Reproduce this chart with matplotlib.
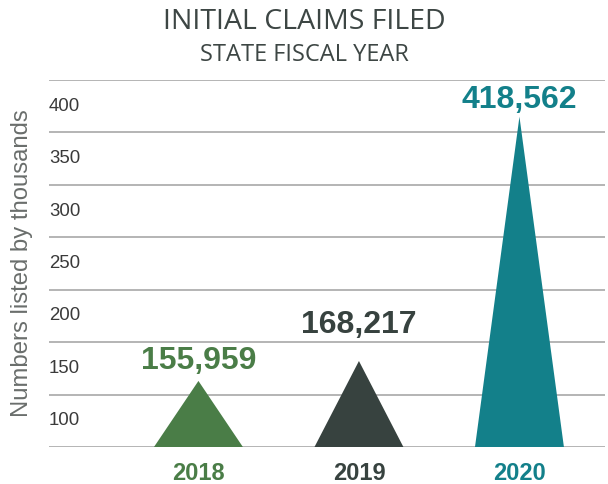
import matplotlib
matplotlib.use("Agg")
import matplotlib.pyplot as plt
import matplotlib.transforms as mtransforms
import numpy as np

# ---- data ----
years = ["2018", "2019", "2020"]
claims = [155959, 168217, 418562]          # labelled totals
peak_heights = [138, 157, 390]             # triangle peaks as drawn (thousands scale)
colors = ["#4a7d47", "#37423f", "#13808a"]
ytick_values = [100, 150, 200, 250, 300, 350, 400]
grid_values = [75, 125, 175, 225, 275, 325, 375, 425]

fig = plt.figure(figsize=(6.08, 4.85), dpi=100)
ax = fig.add_axes([49/608, 37/485, 556/608, 367/485])

base = 75
half_w = 0.277
xs = np.arange(len(years))
label_offsets = [4, 16, 2]  # points above peak
for x, h, c, v, off in zip(xs, peak_heights, colors, claims, label_offsets):
    ax.fill([x - half_w, x, x + half_w], [base, h, base], color=c, alpha=1.0,
            zorder=3, linewidth=0)
    ax.annotate(f"{v:,}", (x, h), xytext=(0, off), textcoords="offset points",
                ha="center", va="bottom", fontsize=23, fontweight="bold",
                color=c, family="Liberation Sans", zorder=4)

ax.set_xlim(-0.931, 2.533)
ax.set_ylim(75, 425)
ax.set_xticks(xs)
ax.set_xticklabels(years)
for lbl, c in zip(ax.get_xticklabels(), colors):
    lbl.set_color(c)
    lbl.set_fontweight("bold")
    lbl.set_fontsize(17)
    lbl.set_family("Liberation Sans")
ax.tick_params(axis="x", length=0, pad=10)

ax.set_yticks(ytick_values)
ax.set_yticklabels([str(v) for v in ytick_values])
ax.set_yticks(grid_values, minor=True)
ax.tick_params(axis="y", which="both", length=0, pad=0)
shift = mtransforms.ScaledTranslation(0, 3/100, fig.dpi_scale_trans)
for lbl in ax.get_yticklabels():
    lbl.set_ha("left")
    lbl.set_fontsize(13.4)
    lbl.set_color("#3a3a3a")
    lbl.set_family("Liberation Sans")
    lbl.set_transform(lbl.get_transform() + shift)

ax.grid(False)
ax.grid(which="minor", axis="y", color="#b4b4b4", linewidth=1.4, zorder=1)
for s in ax.spines.values():
    s.set_visible(False)

fig.text(22/608, 1 - 263/485, "Numbers listed by thousands", rotation=90,
         ha="center", va="center", fontsize=17.2, color="#6a6e6c",
         family="Liberation Sans")

fig.text(0.5, 1 - 22/485, "INITIAL CLAIMS FILED", ha="center", va="center",
         fontsize=20.5, color="#3d4644", family="Open Sans")
fig.text(0.5, 1 - 55/485, "STATE FISCAL YEAR", ha="center", va="center",
         fontsize=17, color="#3d4644", family="Open Sans")

fig.savefig("out.png", dpi=100)
